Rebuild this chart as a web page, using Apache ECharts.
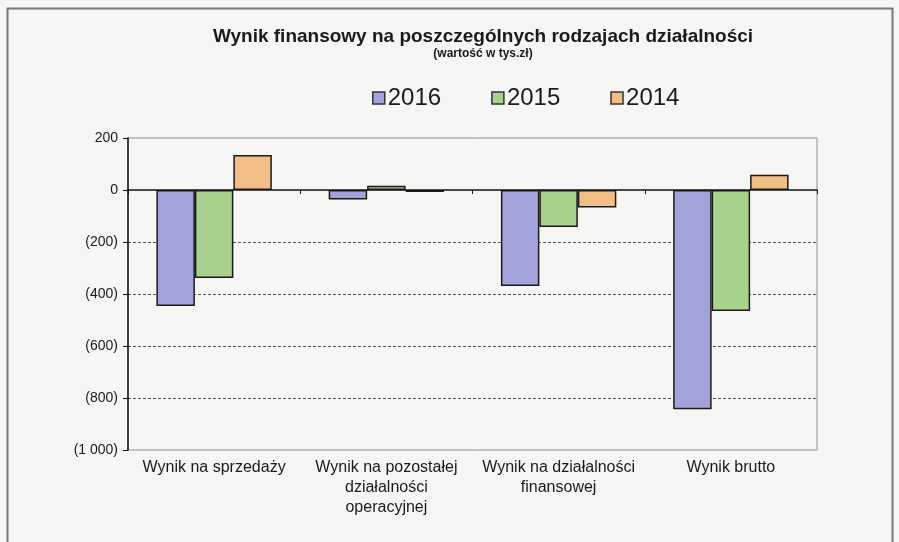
<!DOCTYPE html>
<html><head><meta charset="utf-8">
<script src="https://cdn.jsdelivr.net/npm/echarts@6/dist/echarts.min.js"></script>
<style>html,body{margin:0;padding:0;background:#f5f5f3}#c{width:899px;height:542px}</style>
</head><body><div id="c"></div>
<script>
const categories = ['Wynik na sprzedaży', 'Wynik na pozostałej\ndziałalności\noperacyjnej', 'Wynik na działalności\nfinansowej', 'Wynik brutto'];
const years = ['2016', '2015', '2014'];
const v2016 = [-446, -37, -369, -843];
const v2015 = [-338, 16, -142, -465];
const v2014 = [135, -8, -67, 59];
const colors = ['#a3a3dc', '#a9d18e', '#f3bd86'];

const chart = echarts.init(document.getElementById('c'));
const font = 'Liberation Sans, Arial, sans-serif';
const seriesData = [v2016, v2015, v2014];
chart.setOption({
  backgroundColor: '#f5f5f3',
  animation: false,
  graphic: [{type: 'rect', shape: {x: 7.5, y: 8.5, width: 885, height: 560}, style: {fill: 'none', stroke: '#777', lineWidth: 2}}],
  title: [
    {text: 'Wynik finansowy na poszczególnych rodzajach działalności', left: 478, textAlign: 'center', top: 22,
     textStyle: {fontFamily: font, fontSize: 19, fontWeight: 'bold', color: '#1a1a1a'}},
    {text: '(wartość w tys.zł)', left: 478, textAlign: 'center', top: 43,
     textStyle: {fontFamily: font, fontSize: 12, fontWeight: 'bold', color: '#1a1a1a'}}
  ],
  legend: {
    data: years, left: 367, top: 81, itemWidth: 12, itemHeight: 12, itemGap: 50,
    icon: 'rect',
    itemStyle: {borderColor: '#333', borderWidth: 1.5},
    textStyle: {fontFamily: font, fontSize: 24, color: '#1a1a1a', padding: [0, 0, 0, -2]}
  },
  grid: {left: 128, right: 82, top: 138, bottom: 92, show: true, borderColor: '#8a8f8c', borderWidth: 1},
  xAxis: [
    {type: 'category', data: categories, position: 'bottom',
     axisLine: {show: false, onZero: false}, axisTick: {show: false},
     axisLabel: {fontFamily: font, fontSize: 16, color: '#1a1a1a', margin: 8, lineHeight: 20, interval: 0}},
    {type: 'category', data: categories, position: 'bottom',
     axisLine: {show: true, onZero: true, lineStyle: {color: '#111', width: 1.5}},
     axisTick: {show: true, length: 4, lineStyle: {color: '#111'}}, axisLabel: {show: false}}
  ],
  yAxis: {
    type: 'value', min: -1000, max: 200, interval: 200,
    axisLine: {show: true, lineStyle: {color: '#111', width: 1.5}},
    axisTick: {show: true, length: 5, lineStyle: {color: '#111'}},
    axisLabel: {fontFamily: font, fontSize: 14, color: '#1a1a1a', margin: 10,
      formatter: v => v < 0 ? '(' + String(-v).replace(/\B(?=(\d{3})+(?!\d))/g, ' ') + ')' : String(v)},
    splitLine: {show: true, lineStyle: {type: [3, 2], width: 1, color: ['transparent', '#555', '#555', '#555', '#555', 'transparent', 'transparent']}}
  },
  series: years.map((y, i) => ({
    name: y, type: 'bar', xAxisIndex: 0, data: seriesData[i],
    barGap: '0%', barCategoryGap: '33%',
    itemStyle: {color: colors[i], borderColor: '#1a1a1a', borderWidth: 1.5}
  }))
});
</script></body></html>
